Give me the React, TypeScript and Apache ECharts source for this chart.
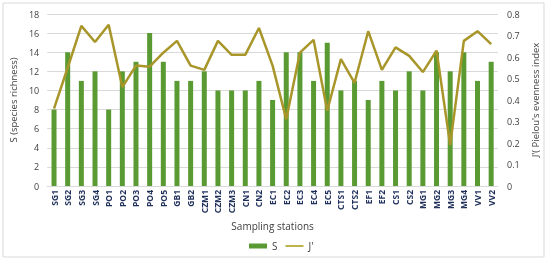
import React, { useEffect, useRef } from "react";
import * as echarts from "echarts";

const stations = ["SG1","SG2","SG3","SG4","PO1","PO2","PO3","PO4","PO5","GB1","GB2","CZM1","CZM2","CZM3","CN1","CN2","EC1","EC2","EC3","EC4","EC5","CTS1","CTS2","EF1","EF2","CS1","CS2","MG1","MG2","MG3","MG4","VV1","VV2"];
const speciesRichness = [8,14,11,12,8,12,13,16,13,11,11,12,10,10,10,11,9,14,14,11,15,10,11,9,11,10,12,10,14,12,14,11,13];
const evenness = [0.36,0.55,0.745,0.67,0.75,0.46,0.56,0.555,0.62,0.675,0.56,0.54,0.675,0.61,0.61,0.735,0.56,0.31,0.62,0.68,0.35,0.59,0.48,0.72,0.54,0.645,0.605,0.53,0.63,0.19,0.675,0.72,0.66];

export default function App() {
  const ref = useRef<HTMLDivElement>(null);
  useEffect(() => {
    const chart = echarts.init(ref.current!, null, { renderer: "svg" });
    const font = "'Open Sans', 'Liberation Sans', sans-serif";
    chart.setOption({
      animation: false,
      textStyle: { fontFamily: font },
      graphic: [
        { type: "rect", shape: { x: 3, y: 3, width: 541, height: 254 }, style: { fill: "none", stroke: "#d9d9d9", lineWidth: 1 } },
      ],
      grid: { left: 45, right: 52, top: 14, bottom: 76 },
      legend: {
        left: 244, top: 236, itemWidth: 18, itemHeight: 5, itemGap: 8,
        textStyle: { fontSize: 10, color: "#404040", fontFamily: font },
        data: [
          { name: "S", icon: "rect" },
          { name: "J'", icon: "path://M0,0L40,0L40,4L0,4Z", itemStyle: { color: "#b5aa3a" } },
        ],
      },
      xAxis: {
        type: "category", data: stations,
        name: "Sampling stations", nameLocation: "middle", nameGap: 33,
        nameTextStyle: { fontSize: 10, color: "#404040" },
        axisLine: { lineStyle: { color: "#d9d9d9" } },
        axisTick: { show: false },
        axisLabel: { rotate: 90, fontSize: 8.5, fontWeight: "bold", color: "#1f2f5a", margin: 4, interval: 0 },
      },
      yAxis: [
        {
          type: "value", min: 0, max: 18, interval: 2,
          name: "S (species richness)", nameLocation: "middle", nameGap: 22, nameRotate: 90,
          nameTextStyle: { fontSize: 9.5, color: "#404040" },
          axisLine: { show: false }, axisTick: { show: false },
          axisLabel: { fontSize: 9, color: "#404040", margin: 8 },
          splitLine: { lineStyle: { color: "#d9d9d9" } },
        },
        {
          type: "value", min: 0, max: 0.8, interval: 0.1,
          name: "J'( Pielou's evenness index", nameLocation: "middle", nameGap: 24, nameRotate: 90,
          nameTextStyle: { fontSize: 9.5, color: "#404040" },
          axisLine: { show: false }, axisTick: { show: false },
          axisLabel: { fontSize: 9, color: "#404040", margin: 9 },
          splitLine: { show: false },
        },
      ],
      series: [
        { name: "S", type: "bar", data: speciesRichness, barWidth: 5, itemStyle: { color: "#5a9a32" } },
        { name: "J'", type: "line", yAxisIndex: 1, data: evenness, symbol: "none", lineStyle: { color: "#a8962a", width: 2.5 }, itemStyle: { color: "#b5aa3a" } },
      ],
    });
    return () => chart.dispose();
  }, []);
  return <div ref={ref} style={{ position: "fixed", left: 0, top: 0, width: 550, height: 262 }} />;
}
